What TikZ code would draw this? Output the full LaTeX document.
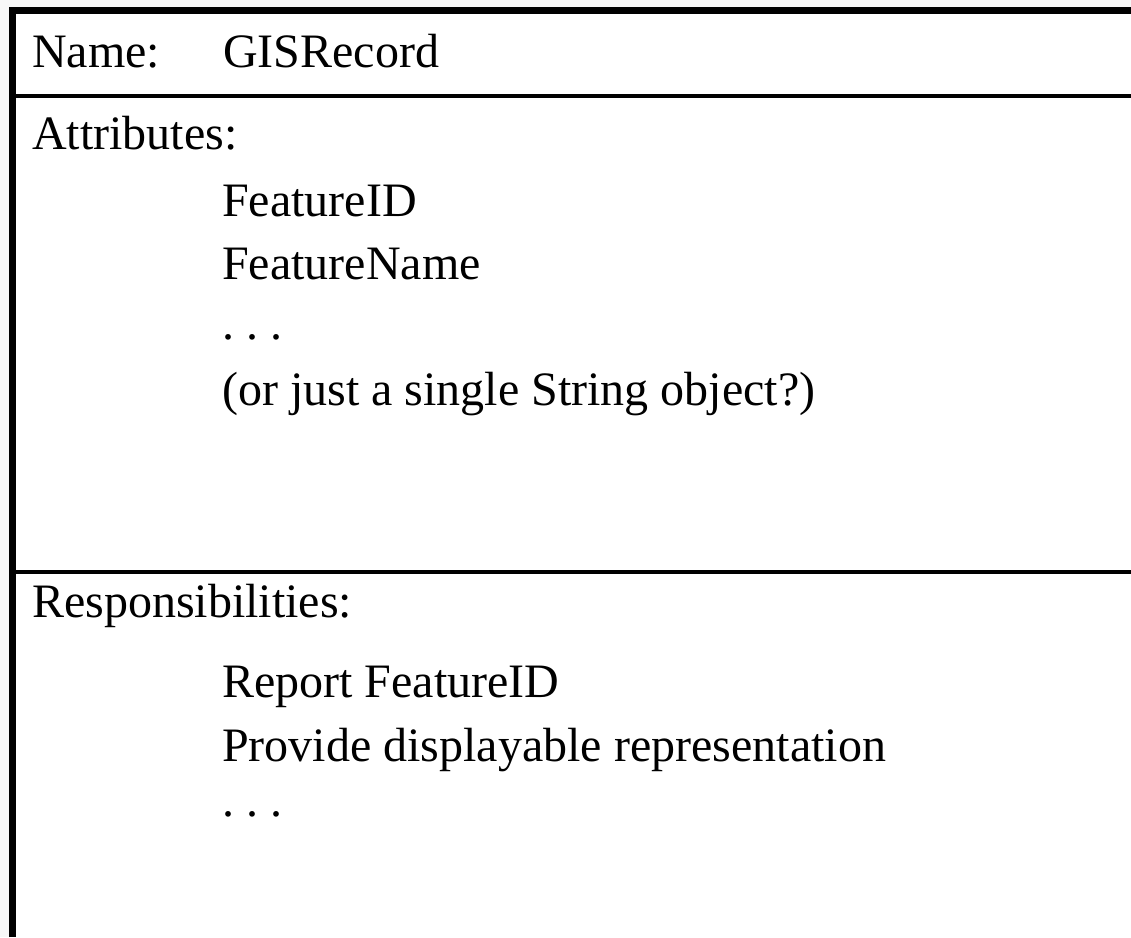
\documentclass[tikz,border=0pt]{standalone}
\usepackage{fontspec}
\setmainfont{Liberation Serif}
\definecolor{bggrey}{HTML}{F7F7F7}
\begin{document}
\begin{tikzpicture}[x=1pt,y=-1pt,
  txt/.style={anchor=base west, inner sep=0pt, font=\fontsize{48}{58}\selectfont},
  border/.style={line width=7pt, line join=miter},
  divider/.style={line width=3.5pt}]
\useasboundingbox (0,0) rectangle (1131,937);
\fill[bggrey] (0,0) rectangle (1131,937);
\fill[white] (9,7) rectangle (1131,937);
\draw[border] (12.5,937) -- (12.5,10.5) -- (1131,10.5);
\draw[divider] (16,96) -- (1131,96);
\draw[divider] (16,572) -- (1131,572);
% Name section
\node[txt] (namelbl) at (32,67) {Name:};
\node[txt] (nameval) at (223,67) {GISRecord};
% Attributes section
\node[txt] (attr) at (32,149) {Attributes:};
\node[txt] (a1) at (222,216) {FeatureID};
\node[txt] (a2) at (222,279) {FeatureName};
\node[txt] (a3) at (222,339) {.\ .\ .};
\node[txt] (a4) at (222,405) {(or just a single String object?)};
% Responsibilities section
\node[txt] (resp) at (32,617) {Responsibilities:};
\node[txt] (r1) at (222,697) {Report FeatureID};
\node[txt] (r2) at (222,761) {Provide displayable representation};
\node[txt] (r3) at (222,816) {.\ .\ .};
\end{tikzpicture}
\end{document}
